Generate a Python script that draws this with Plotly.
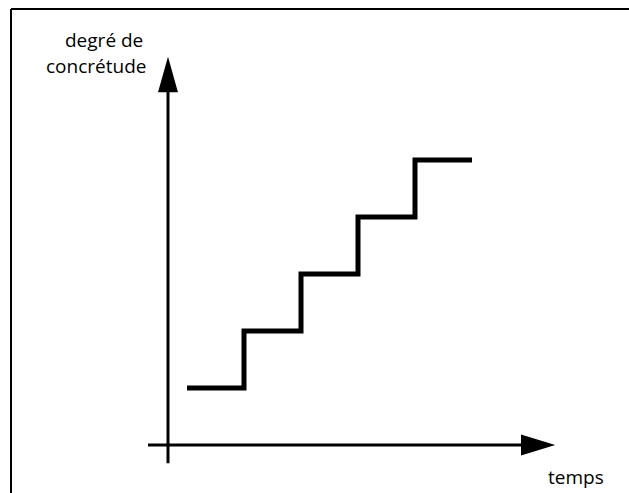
import plotly.graph_objects as go

# Staircase: concreteness grows by steps over time
TIME = [0, 1, 2, 3, 4, 5]
LEVEL = [1, 2, 3, 4, 5, 5]

Y_LABEL = ["degré de", "concrétude"]
X_LABEL = "temps"

W, H = 629, 493
UNIT = 57.0  # pixels per step

# axis ranges chosen so the canvas is the plot area
x_range = [-187 / UNIT, (W - 187) / UNIT]
y_range = [-48 / UNIT, 445 / UNIT]

fig = go.Figure()

fig.add_trace(go.Scatter(
    x=TIME,
    y=LEVEL,
    mode='lines',
    line=dict(color='black', width=5, shape='hv'),
    hoverinfo='skip',
    showlegend=False
))

# axes with arrow heads (data units)
ox, oy = -1 / 3, 0
shapes = [
    # vertical axis
    dict(type='line', x0=ox, x1=ox, y0=-0.32, y1=6.2,
         line=dict(color='black', width=3)),
    dict(type='path', path=f'M {ox - 0.175} 6.19 L {ox + 0.175} 6.19 L {ox} 6.81 Z',
         fillcolor='black', line=dict(color='black', width=0)),
    # horizontal axis
    dict(type='line', x0=-0.684, x1=5.87, y0=oy, y1=oy,
         line=dict(color='black', width=3)),
    dict(type='path', path=f'M 5.86 {oy - 0.185} L 5.86 {oy + 0.185} L 6.46 {oy} Z',
         fillcolor='black', line=dict(color='black', width=0)),
    # frame (left and top edges, rest runs off the picture)
    dict(type='line', xref='paper', yref='paper', x0=11 / W, x1=11 / W, y0=-0.01, y1=1 - 9 / H,
         line=dict(color='black', width=2)),
    dict(type='line', xref='paper', yref='paper', x0=11 / W, x1=1.01, y0=1 - 9 / H, y1=1 - 9 / H,
         line=dict(color='black', width=2)),
]

font = dict(family='Open Sans', size=19, color='black')
annotations = [
    dict(xref='paper', yref='paper', x=104 / W, y=1 - 40 / H, text=Y_LABEL[0],
         showarrow=False, font=font, xanchor='center', yanchor='middle'),
    dict(xref='paper', yref='paper', x=96 / W, y=1 - 66 / H, text=Y_LABEL[1],
         showarrow=False, font=font, xanchor='center', yanchor='middle'),
    dict(xref='paper', yref='paper', x=576 / W, y=1 - 477 / H, text=X_LABEL,
         showarrow=False, font=font, xanchor='center', yanchor='middle'),
]

fig.update_layout(
    width=W,
    height=H,
    margin=dict(l=0, r=0, t=0, b=0),
    paper_bgcolor='white',
    plot_bgcolor='white',
    shapes=shapes,
    annotations=annotations,
    xaxis=dict(range=x_range, visible=False, fixedrange=True),
    yaxis=dict(range=y_range, visible=False, fixedrange=True),
)

# drop the browser's default page margin so the figure sits at the corner
fig.write_html("out.html", config={'displayModeBar': False},
               post_script="document.body.style.margin = '0';")
